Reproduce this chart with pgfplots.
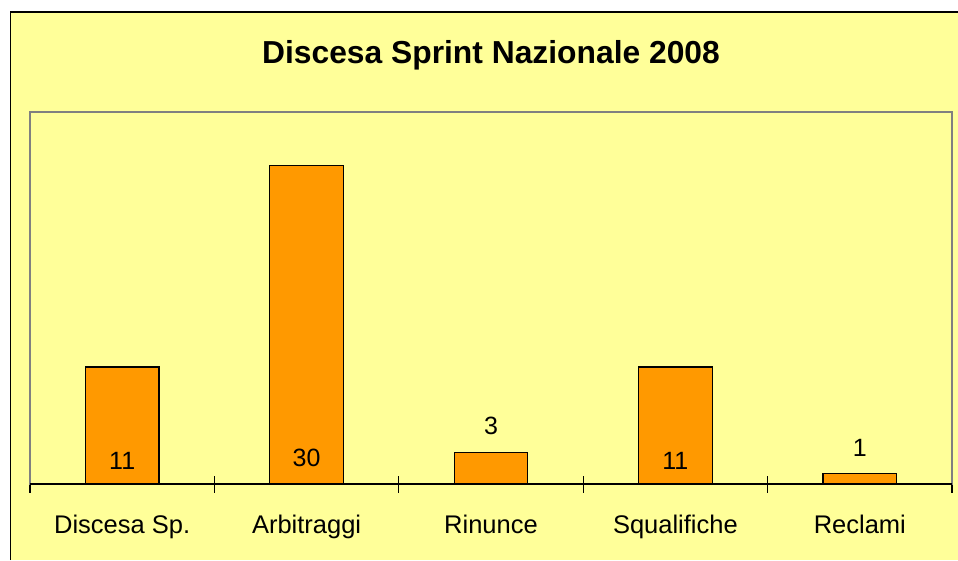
\documentclass[border=0pt]{standalone}
\usepackage{pgfplots}
\pgfplotsset{compat=1.18}
\usepackage{fontspec}
\setmainfont{Liberation Sans}
\definecolor{bgyellow}{HTML}{FFFF99}
\definecolor{barorange}{HTML}{FF9900}
\definecolor{framegray}{HTML}{808080}
\begin{document}
\begin{tikzpicture}
\useasboundingbox (0pt,0pt) rectangle (958pt,560pt);
\fill[white] (0pt,0pt) rectangle (958pt,560pt);
\fill[bgyellow] (10.5pt,0pt) rectangle (958pt,548pt);
\draw[black, line width=1.6pt] (10.5pt,0pt) -- (10.5pt,548pt) -- (958pt,548pt);
\node[anchor=base, inner sep=0pt, font=\fontsize{31.8}{38}\selectfont\bfseries] at (491pt,496.7pt) {Discesa Sprint Nazionale 2008};
\begin{axis}[
  at={(30pt,76pt)}, anchor=south west,
  scale only axis, width=922pt, height=372pt,
  xmin=-0.5, xmax=4.5, ymin=0, ymax=35,
  axis line style={draw=framegray, line width=1.2pt},
  xtick={0,1,2,3,4},
  xticklabels={Discesa Sp.,Arbitraggi,Rinunce,Squalifiche,Reclami},
  minor xtick={-0.5,0.5,1.5,2.5,3.5,4.5},
  major tick length=0pt, minor tick length=17pt, tick align=center,
  xtick pos=bottom, ytick=\empty,
  x tick style={black, line width=1.3pt},
  minor x tick style={black, line width=1.3pt},
  xticklabel style={anchor=base, yshift=-49pt, font=\fontsize{25.5}{30}\selectfont},
  clip=false,
]
\addplot[ybar, bar width=0.4, fill=barorange, draw=black, line width=1.2pt]
  coordinates {(0,11) (1,30) (2,3) (3,11) (4,1)};
\addplot[draw=none, nodes near coords, point meta=explicit symbolic,
  nodes near coords style={anchor=base, inner sep=0pt, black, font=\fontsize{25}{30}\selectfont}]
  coordinates {(0,1.41)[11] (1,1.6)[30] (2,4.7)[3] (3,1.41)[11] (4,2.63)[1]};
\draw[black, line width=1.3pt] (axis cs:-0.5,0) -- (axis cs:4.5,0);
\end{axis}
\end{tikzpicture}
\end{document}
